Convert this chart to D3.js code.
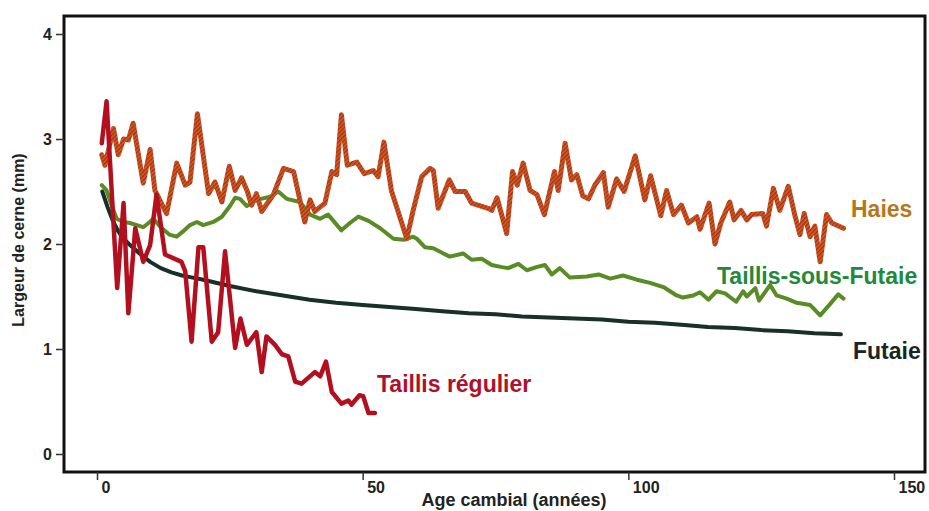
<!DOCTYPE html>
<meta charset="utf-8">
<style>
  body { margin: 0; background: #fff; }
  text { font-family: "Liberation Sans", Arial, sans-serif; }
</style>
<body>
<script src="https://d3js.org/d3.v7.min.js"></script>
<script>
// ---- data: [age (years), ring width (mm)] ----
var futaie = [[1,2.50],[2,2.35],[3,2.22],[4,2.12],[5,2.05],[6,2.00],[8,1.91],[10,1.83],[12,1.77],[14,1.73],
  [16,1.70],[18,1.68],[20,1.66],[25,1.60],[30,1.55],[35,1.51],[40,1.47],[45,1.44],[50,1.42],[55,1.40],
  [60,1.38],[65,1.36],[70,1.34],[75,1.33],[80,1.31],[85,1.30],[90,1.29],[95,1.28],[100,1.26],[105,1.25],
  [110,1.23],[115,1.21],[120,1.20],[125,1.18],[130,1.17],[135,1.15],[140,1.14]];

var tsf = [[0.9,2.56],[1.8,2.51],[2.8,2.36],[3.7,2.24],[5.0,2.21],[6.2,2.20],[7.5,2.18],[8.7,2.16],[9.7,2.20],
  [10.6,2.24],[12.0,2.16],[13.6,2.09],[15.0,2.07],[16.2,2.12],[17.5,2.18],[18.8,2.21],[20.0,2.18],[21.9,2.21],
  [23.5,2.26],[25.0,2.36],[26.0,2.44],[26.9,2.43],[28.2,2.36],[30.0,2.42],[32.6,2.45],[34.1,2.50],[35.7,2.43],
  [38.2,2.40],[40.1,2.28],[42.0,2.24],[43.5,2.28],[46.0,2.13],[47.6,2.20],[49.2,2.26],[51.1,2.22],[53.3,2.15],
  [55.8,2.05],[57.7,2.04],[59.5,2.07],[60.2,2.05],[61.7,1.97],[63.3,1.96],[65.2,1.91],[66.4,1.88],[68.9,1.91],
  [70.5,1.85],[72.4,1.86],[74.3,1.80],[76.2,1.78],[77.4,1.77],[79.3,1.81],[80.9,1.75],[82.7,1.78],[84.3,1.80],
  [85.6,1.71],[87.1,1.77],[89.0,1.68],[92.2,1.69],[94.4,1.71],[96.6,1.67],[99.0,1.70],[101.6,1.66],[104.1,1.63],
  [106.6,1.59],[109.1,1.51],[110.3,1.49],[112.2,1.51],[113.5,1.54],[115.1,1.47],[116.6,1.55],[118.2,1.53],
  [120.3,1.45],[121.6,1.55],[122.3,1.50],[123.9,1.58],[124.6,1.46],[125.7,1.54],[126.7,1.61],[127.9,1.51],
  [129.8,1.48],[131.7,1.44],[134.2,1.42],[136.1,1.32],[138.0,1.43],[139.5,1.52],[140.5,1.48]];

var haies = [[0.9,2.85],[1.5,2.75],[3.1,3.10],[4.0,2.85],[5.0,3.00],[5.9,2.99],[6.8,3.15],[8.7,2.58],[10.0,2.90],
  [10.9,2.51],[13.1,2.29],[15.0,2.77],[16.6,2.56],[17.5,2.59],[18.9,3.24],[21.0,2.48],[22.2,2.59],[23.5,2.40],
  [24.9,2.74],[26.0,2.51],[27.2,2.63],[28.3,2.50],[29.1,2.37],[30.0,2.48],[31.0,2.31],[33.2,2.47],[35.1,2.72],
  [37.0,2.69],[39.1,2.21],[40.1,2.42],[41.0,2.31],[42.9,2.39],[44.2,2.69],[45.1,2.66],[46.0,3.23],[47.1,2.75],
  [48.9,2.78],[50.3,2.67],[52.0,2.70],[52.9,2.64],[54.0,2.97],[55.4,2.51],[58.3,2.05],[59.5,2.32],[61.1,2.64],
  [62.7,2.72],[63.3,2.70],[64.2,2.34],[66.3,2.61],[67.4,2.50],[69.3,2.50],[70.5,2.39],[73.6,2.34],[74.3,2.32],
  [75.3,2.44],[77.1,2.10],[78.2,2.69],[79.1,2.56],[80.2,2.77],[81.5,2.51],[82.8,2.47],[84.2,2.28],[86.1,2.69],
  [86.8,2.51],[88.1,2.96],[89.3,2.61],[90.3,2.66],[91.4,2.46],[92.5,2.43],[93.7,2.56],[95.3,2.68],[96.2,2.35],
  [97.8,2.62],[99.2,2.50],[101.3,2.84],[103.1,2.42],[104.2,2.65],[106.1,2.27],[107.2,2.51],[108.5,2.28],
  [110.0,2.37],[111.3,2.20],[112.9,2.26],[113.5,2.14],[115.2,2.39],[116.3,2.00],[117.4,2.20],[119.1,2.40],
  [119.9,2.23],[121.2,2.32],[122.3,2.23],[123.2,2.28],[125.3,2.29],[126.0,2.17],[127.3,2.53],[128.5,2.32],
  [130.1,2.55],[131.4,2.26],[132.3,2.09],[133.1,2.29],[134.2,2.07],[135.1,2.17],[136.1,1.83],[137.3,2.28],
  [138.3,2.20],[140.5,2.15]];

var taillis = [[0.9,2.96],[1.8,3.36],[3.8,1.58],[5.0,2.39],[5.9,1.34],[7.2,2.15],[8.7,1.83],[10.0,1.99],
  [11.2,2.47],[12.8,1.90],[15.9,1.83],[16.6,1.74],[17.8,1.07],[19.1,1.97],[20.0,1.97],[21.6,1.07],[22.8,1.16],
  [24.1,1.93],[26.0,1.01],[27.0,1.29],[28.2,1.04],[30.0,1.16],[31.0,0.78],[31.9,1.12],[33.5,1.04],[34.8,0.95],
  [36.0,0.93],[37.3,0.69],[38.5,0.67],[41.0,0.78],[42.0,0.74],[43.1,0.88],[44.2,0.59],[46.0,0.48],[47.3,0.51],
  [47.9,0.47],[49.4,0.56],[50.1,0.55],[51.1,0.39],[52.3,0.39]];

var xTicks = [0, 50, 100, 150];
var yTicks = [0, 1, 2, 3, 4];

var width = 929, height = 511;
var frame = {left: 64, top: 16, right: 925, bottom: 472};

var x = d3.scaleLinear().domain([0, 150]).range([97, 894]);
var y = d3.scaleLinear().domain([0, 4]).range([454, 34]);

var svg = d3.select("body").append("svg")
    .attr("width", width)
    .attr("height", height);

// hatched stroke for the "Haies" curve
var defs = svg.append("defs");
var pat = defs.append("pattern")
    .attr("id", "hatch")
    .attr("patternUnits", "userSpaceOnUse")
    .attr("width", 3).attr("height", 3)
    .attr("patternTransform", "rotate(45)");
pat.append("rect").attr("width", 3).attr("height", 3).attr("fill", "#d65e20");
pat.append("rect").attr("width", 1.4).attr("height", 3).attr("fill", "#a3301a");

// frame
svg.append("rect")
    .attr("x", frame.left).attr("y", frame.top)
    .attr("width", frame.right - frame.left)
    .attr("height", frame.bottom - frame.top)
    .attr("fill", "none")
    .attr("stroke", "#111")
    .attr("stroke-width", 3);

// axes
var yAxis = svg.append("g")
    .attr("transform", "translate(" + frame.left + ",0)")
    .call(d3.axisLeft(y).tickValues(yTicks).tickSize(8).tickPadding(4).tickFormat(d3.format("d")));
yAxis.select(".domain").remove();

var xAxis = svg.append("g")
    .attr("transform", "translate(0," + frame.bottom + ")")
    .call(d3.axisBottom(x).tickValues(xTicks).tickSize(8).tickPadding(2).tickFormat(d3.format("d")));
xAxis.select(".domain").remove();
xAxis.selectAll("text").attr("text-anchor", "start").attr("dx", 4);

svg.selectAll(".tick line").attr("stroke", "#333").attr("stroke-width", 1.5);
svg.selectAll(".tick text")
    .style("font-family", "'Liberation Sans', Arial, sans-serif")
    .style("font-size", "16px")
    .style("font-weight", "bold")
    .attr("fill", "#222");

// axis titles
svg.append("text")
    .attr("transform", "translate(24,240) rotate(-90)")
    .attr("text-anchor", "middle")
    .style("font-size", "16px")
    .style("font-weight", "bold")
    .attr("fill", "#222")
    .text("Largeur de cerne (mm)");

svg.append("text")
    .attr("x", 514).attr("y", 506)
    .attr("text-anchor", "middle")
    .style("font-size", "18px")
    .style("font-weight", "bold")
    .attr("fill", "#222")
    .text("Age cambial (années)");

// curves
var line = d3.line()
    .x(function(d) { return x(d[0]); })
    .y(function(d) { return y(d[1]); });

function drawCurve(data, color, w) {
  svg.append("path")
      .datum(data)
      .attr("d", line)
      .attr("fill", "none")
      .attr("stroke", color)
      .attr("stroke-width", w)
      .attr("stroke-linejoin", "round")
      .attr("stroke-linecap", "round");
}

drawCurve(futaie, "#17302a", 4);
drawCurve(tsf, "#5a8c26", 4);
drawCurve(haies, "url(#hatch)", 5);
drawCurve(taillis, "#b3101f", 4.5);

// series labels
var labels = [
  {t: "Haies", x: 851, y: 217, c: "#b8761a"},
  {t: "Taillis-sous-Futaie", x: 717, y: 284, c: "#21893a"},
  {t: "Futaie", x: 853, y: 359, c: "#152624"},
  {t: "Taillis régulier", x: 377, y: 392, c: "#b0102a"}
];
svg.selectAll(".lab")
    .data(labels)
    .enter().append("text")
    .attr("x", function(d) { return d.x; })
    .attr("y", function(d) { return d.y; })
    .attr("fill", function(d) { return d.c; })
    .style("font-size", "23px")
    .style("font-weight", "bold")
    .text(function(d) { return d.t; });
</script>
</body>
</html>
